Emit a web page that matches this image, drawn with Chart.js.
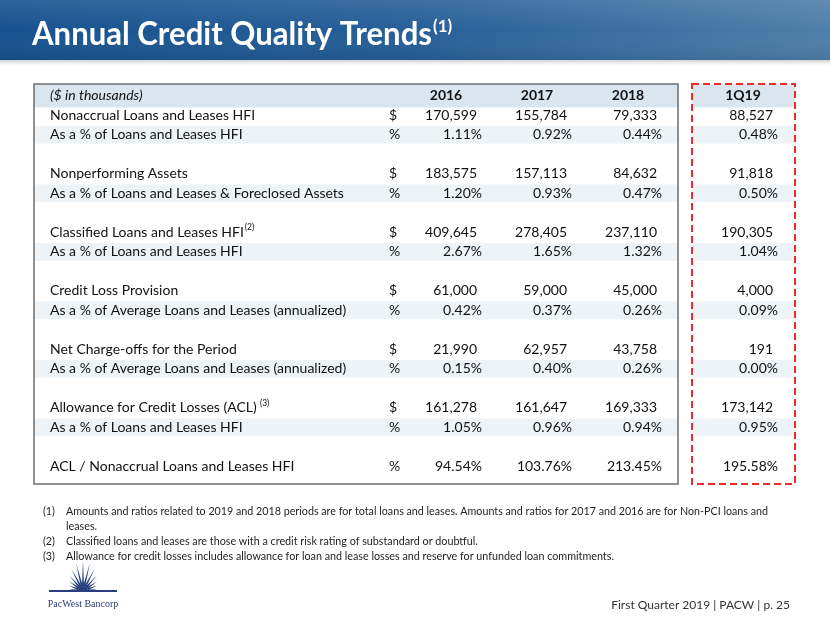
<!DOCTYPE html>
<html><head>
<meta charset="utf-8">
<script src="https://cdn.jsdelivr.net/npm/chart.js@4.4.1/dist/chart.umd.min.js"></script>
<style>
  html, body { margin: 0; padding: 0; background: #ffffff; }
  canvas { display: block; }
</style>
</head>
<body>
<canvas id="credit-table" width="830" height="623"></canvas>
<script>

// table data (row 0 is the header, rows below follow the slide top to bottom)
var periods = ['2016', '2017', '2018', '1Q19'];
var metrics = [
  'Nonaccrual Loans and Leases HFI',
  'As a % of Loans and Leases HFI',
  '',
  'Nonperforming Assets',
  'As a % of Loans and Leases & Foreclosed Assets',
  '',
  'Classified Loans and Leases HFI',
  'As a % of Loans and Leases HFI',
  '',
  'Credit Loss Provision',
  'As a % of Average Loans and Leases (annualized)',
  '',
  'Net Charge-offs for the Period',
  'As a % of Average Loans and Leases (annualized)',
  '',
  'Allowance for Credit Losses (ACL)',
  'As a % of Loans and Leases HFI',
  '',
  'ACL / Nonaccrual Loans and Leases HFI'
];
var noteMarks = ['', '', '', '', '', '', '(2)', '', '', '', '', '', '', '', '', ' (3)', '', '', ''];
var units = ['$', '%', '', '$', '%', '', '$', '%', '', '$', '%', '', '$', '%', '', '$', '%', '', '%'];

var v2016 = [170599, 1.11, null, 183575, 1.20, null, 409645, 2.67, null, 61000, 0.42, null, 21990, 0.15, null, 161278, 1.05, null, 94.54];
var v2017 = [155784, 0.92, null, 157113, 0.93, null, 278405, 1.65, null, 59000, 0.37, null, 62957, 0.40, null, 161647, 0.96, null, 103.76];
var v2018 = [79333, 0.44, null, 84632, 0.47, null, 237110, 1.32, null, 45000, 0.26, null, 43758, 0.26, null, 169333, 0.94, null, 213.45];
var v1Q19 = [88527, 0.48, null, 91818, 0.50, null, 190305, 1.04, null, 4000, 0.09, null, 191, 0.00, null, 173142, 0.95, null, 195.58];
var periodValues = [v2016, v2017, v2018, v1Q19];

var titleText = 'Annual Credit Quality Trends';
var unitsNote = '($ in thousands)';
var footnotes = [
  ['(1)', 'Amounts and ratios related to 2019 and 2018 periods are for total loans and leases. Amounts and ratios for 2017 and 2016 are for Non-PCI loans and'],
  ['', 'leases.'],
  ['(2)', 'Classified loans and leases are those with a credit risk rating of substandard or doubtful.'],
  ['(3)', 'Allowance for credit losses includes allowance for loan and lease losses and reserve for unfunded loan commitments.']
];
var footerText = 'First Quarter 2019 | PACW | p. 25';

// layout (pixels along the x scale)
var tableLeft = 34, tableRight = 678, boxLeft = 692, boxRight = 795;
var labelX = 50, unitX = 389;
var pctRight = [482, 572, 662, 778];
var headCenter = [446, 537, 628, 743];
var FONT = 'Lato, "Open Sans", sans-serif';
var BODY = '14px ' + FONT;

function rowOf(i) { return i + 1; }

function fmt(v, unit) {
  if (v === null) return '';
  if (unit === '$') return v.toLocaleString('en-US');
  return v.toFixed(2) + '%';
}

// shaded rows are the "As a %" lines right under each amount
var shadeRows = [];
metrics.forEach(function(m, i) {
  if (m.indexOf('As a %') === 0) shadeRows.push(rowOf(i));
});

var bandData = [{ y: 0, x: [tableLeft, tableRight] }, { y: 0, x: [boxLeft, boxRight] }];
var shadeData = [];
shadeRows.forEach(function(r) {
  shadeData.push({ y: r, x: [tableLeft, tableRight] });
  shadeData.push({ y: r, x: [boxLeft, boxRight] });
});

var slidePlugin = {
  id: 'slide',
  beforeDraw: function(chart) {
    var ctx = chart.ctx;
    ctx.save();
    ctx.fillStyle = '#ffffff';
    ctx.fillRect(0, 0, 830, 623);
    // banner shadow
    var sh = ctx.createLinearGradient(0, 58, 0, 66);
    sh.addColorStop(0, 'rgba(120,120,120,0.55)');
    sh.addColorStop(1, 'rgba(200,200,200,0)');
    ctx.fillStyle = sh;
    ctx.fillRect(0, 58, 830, 8);
    // banner
    var g = ctx.createLinearGradient(0, 0, 830, 0);
    g.addColorStop(0, '#17528f');
    g.addColorStop(0.5, '#275f98');
    g.addColorStop(1, '#4f7fa9');
    ctx.fillStyle = g;
    ctx.fillRect(0, 0, 830, 60);
    var t = ctx.createLinearGradient(0, 0, 0, 60);
    t.addColorStop(0, 'rgba(255,255,255,0.10)');
    t.addColorStop(0.5, 'rgba(255,255,255,0)');
    t.addColorStop(1, 'rgba(0,0,0,0.08)');
    ctx.fillStyle = t;
    ctx.fillRect(0, 0, 830, 60);
    // title
    ctx.fillStyle = '#ffffff';
    ctx.textBaseline = 'alphabetic';
    ctx.font = 'bold 31.5px ' + FONT;
    ctx.fillText(titleText, 32, 45, 400);
    var w = Math.min(ctx.measureText(titleText).width, 400);
    ctx.font = 'bold 17px ' + FONT;
    ctx.fillText('(1)', 32 + w + 1, 32);
    ctx.restore();
  },
  afterDatasetsDraw: function(chart) {
    var ctx = chart.ctx;
    var ys = chart.scales.y;
    var top = ys.getPixelForValue(ys.min), bottom = ys.getPixelForValue(ys.max);
    ctx.save();

    // table frame
    ctx.strokeStyle = '#6d6d6d';
    ctx.lineWidth = 1.5;
    ctx.strokeRect(tableLeft, top, tableRight - tableLeft, bottom - top);
    // 1Q19 dashed box
    ctx.strokeStyle = '#ee2a2a';
    ctx.lineWidth = 2;
    ctx.setLineDash([7, 4]);
    ctx.strokeRect(boxLeft, top, boxRight - boxLeft, bottom - top);
    ctx.setLineDash([]);

    // header row
    var hy = ys.getPixelForValue(0);
    ctx.textBaseline = 'middle';
    ctx.fillStyle = '#111111';
    ctx.font = 'italic ' + BODY;
    ctx.textAlign = 'left';
    ctx.fillText(unitsNote, labelX, hy);
    ctx.font = 'bold ' + BODY;
    ctx.textAlign = 'center';
    periods.forEach(function(p, k) { ctx.fillText(p, headCenter[k], hy); });

    // body rows
    metrics.forEach(function(m, i) {
      if (!m) return;
      var y = ys.getPixelForValue(rowOf(i));
      ctx.font = BODY;
      ctx.textAlign = 'left';
      ctx.fillText(m, labelX, y);
      if (noteMarks[i]) {
        var mw = ctx.measureText(m).width;
        ctx.font = '8.5px ' + FONT;
        ctx.fillText(noteMarks[i], labelX + mw + 1, y - 5);
        ctx.font = BODY;
      }
      ctx.fillText(units[i], unitX, y);
      ctx.textAlign = 'right';
      periodValues.forEach(function(vals, k) {
        var right = units[i] === '$' ? pctRight[k] - 5 : pctRight[k];
        ctx.fillText(fmt(vals[i], units[i]), right, y);
      });
    });

    // footnotes
    ctx.textAlign = 'left';
    ctx.textBaseline = 'middle';
    ctx.fillStyle = '#1e1e1e';
    ctx.font = '10.75px ' + FONT;
    footnotes.forEach(function(f, i) {
      var y = 512 + i * 14.7;
      if (f[0]) ctx.fillText(f[0], 43, y);
      ctx.fillText(f[1], 66, y, 702);
    });

    // footer
    ctx.textAlign = 'right';
    ctx.fillStyle = '#333333';
    ctx.font = '12px ' + FONT;
    ctx.fillText(footerText, 790, 605);

    // logo
    var cx = 83, cy = 591;
    ctx.fillStyle = '#283e7e';
    var n = 13;
    for (var k = 0; k < n; k++) {
      var a = Math.PI + (k + 0.5) * Math.PI / n;
      var len = 14 + 16 * Math.pow(Math.sin((k + 0.5) * Math.PI / n), 3);
      ctx.beginPath();
      ctx.moveTo(cx + 5 * Math.cos(a - 0.21), cy + 5 * Math.sin(a - 0.21));
      ctx.lineTo(cx + len * Math.cos(a), cy + len * Math.sin(a));
      ctx.lineTo(cx + 5 * Math.cos(a + 0.21), cy + 5 * Math.sin(a + 0.21));
      ctx.closePath();
      ctx.fill();
    }
    ctx.fillRect(cx - 34, cy - 1, 68, 2);
    ctx.beginPath();
    ctx.arc(cx, cy, 5, Math.PI, 2 * Math.PI);
    ctx.fill();
    ctx.font = '10px "Liberation Serif", serif';
    ctx.textAlign = 'center';
    ctx.fillText('PacWest Bancorp', cx, 604);

    ctx.restore();
  }
};

new Chart(document.getElementById('credit-table'), {
  type: 'bar',
  data: {
    datasets: [{
      label: 'header band',
      data: bandData,
      backgroundColor: '#dbe5ee',
      barThickness: 23,
      grouped: false
    }, {
      label: 'shaded rows',
      data: shadeData,
      backgroundColor: '#eef3f8',
      barThickness: 17,
      grouped: false
    }]
  },
  options: {
    indexAxis: 'y',
    responsive: false,
    devicePixelRatio: 1,
    animation: false,
    events: [],
    layout: { padding: { top: 84, bottom: 139, left: 0, right: 0 } },
    plugins: { legend: { display: false }, tooltip: { enabled: false }, title: { display: false } },
    scales: {
      x: { type: 'linear', min: 0, max: 830, display: false },
      y: { type: 'linear', min: -0.6, max: 19.9, reverse: true, offset: false, display: false }
    }
  },
  plugins: [slidePlugin]
});
</script>
</body>
</html>
